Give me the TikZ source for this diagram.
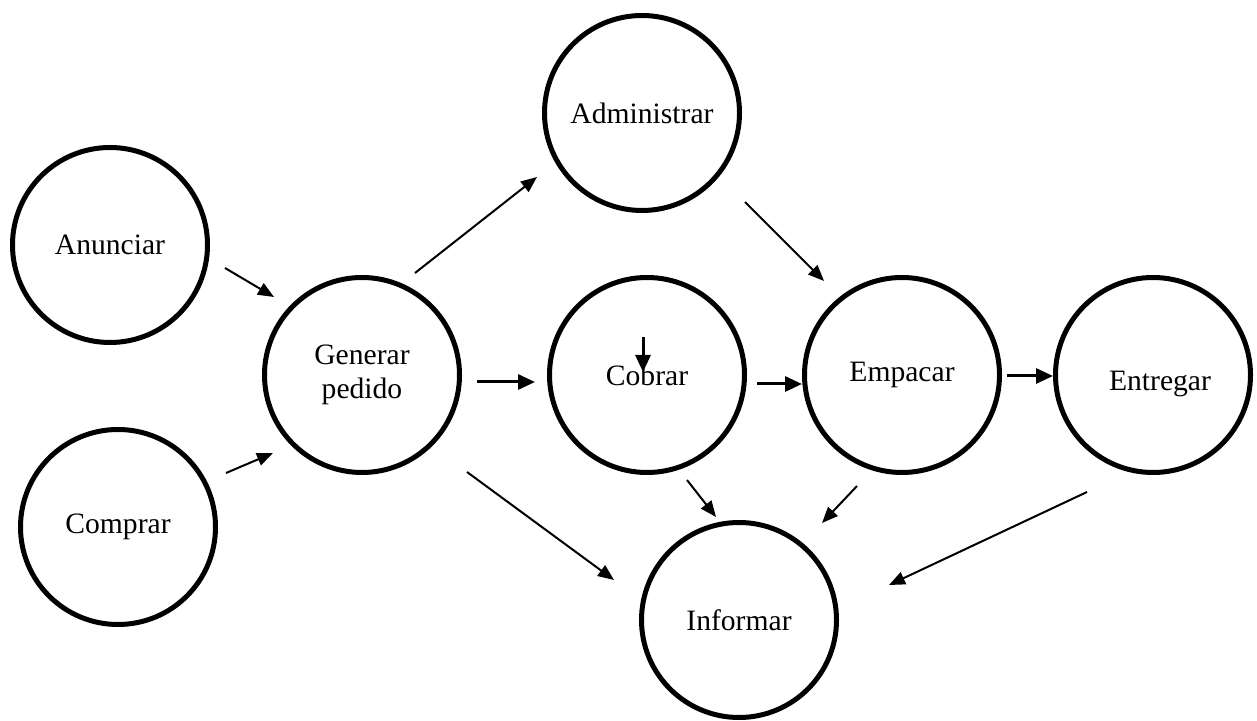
\documentclass[tikz,border=0pt]{standalone}
\usepackage{fontspec}
\setmainfont{Liberation Serif}
\usepackage{tikz}
\usetikzlibrary{positioning,calc,arrows.meta}

\begin{document}
\begin{tikzpicture}[on grid,
    proc/.style={circle,draw,line width=2.5pt,minimum size=97.5pt,inner sep=0pt,
        align=center,font=\fontsize{14.8}{17}\selectfont},
    link/.style={->,line width=1pt,>={Triangle[length=8pt,width=6.5pt]}},
    flow/.style={->,line width=1.5pt,>={Triangle[length=8.5pt,width=7.5pt]}}]
    	\node[proc] (0) {Anunciar};
    	\node[proc] (1) [below right=141pt and 4pt of 0] {Comprar};
    	\node[proc] (2) [below right=65pt and 126pt of 0] {Generar\\pedido};
    	\node[proc] (3) [right=142.5pt of 2] {Cobrar};
    	\node[proc] (4) [above left=131pt and 2.5pt of 3] {Administrar};
    	\node[proc] (5) [right=127.5pt of 3] {Empacar};
    	\node[proc] (6) [right=125.5pt of 5] {\raisebox{-4.5pt}[\height][\depth]{\hspace{7pt}Entregar}};
    	\node[proc] (7) [below right=122.5pt and 46pt of 3] {Informar};
    	\path[link]
    	($(0)+(57.5pt,-11.5pt)$) edge ($(2)+(-44pt,39pt)$)
    	($(1)+(54pt,27pt)$) edge ($(2)+(-44.5pt,-39pt)$)
    	($(2)+(26.5pt,51pt)$) edge ($(4)+(-52.5pt,-32pt)$)
    	($(4)+(51.5pt,-44.5pt)$) edge ($(5)+(-39pt,47pt)$)
    	($(2)+(52.5pt,-48.5pt)$) edge ($(7)+(-62.5pt,20pt)$)
    	($(3)+(20pt,-52.5pt)$) edge ($(7)+(-11.5pt,51.5pt)$)
    	($(5)+(-22.5pt,-55.5pt)$) edge ($(7)+(41.5pt,48.5pt)$)
    	($(6)+(-33pt,-58.5pt)$) edge ($(7)+(75pt,17.5pt)$);
    	\path[flow]
    	($(2)+(57.5pt,-3.5pt)$) edge ($(3)+(-56pt,-3.5pt)$)
    	($(3)+(55pt,-4.5pt)$) edge ($(5)+(-50pt,-4.5pt)$)
    	($(5)+(52.5pt,-0.5pt)$) edge ($(6)+(-50pt,-0.5pt)$)
    	($(3)+(-2pt,19pt)$) edge ($(3)+(-2pt,1.5pt)$);
    	\useasboundingbox ([shift={(-55pt,122.5pt)}]0.center) rectangle ++(628.5pt,-360.5pt);
    \end{tikzpicture}
\end{document}
